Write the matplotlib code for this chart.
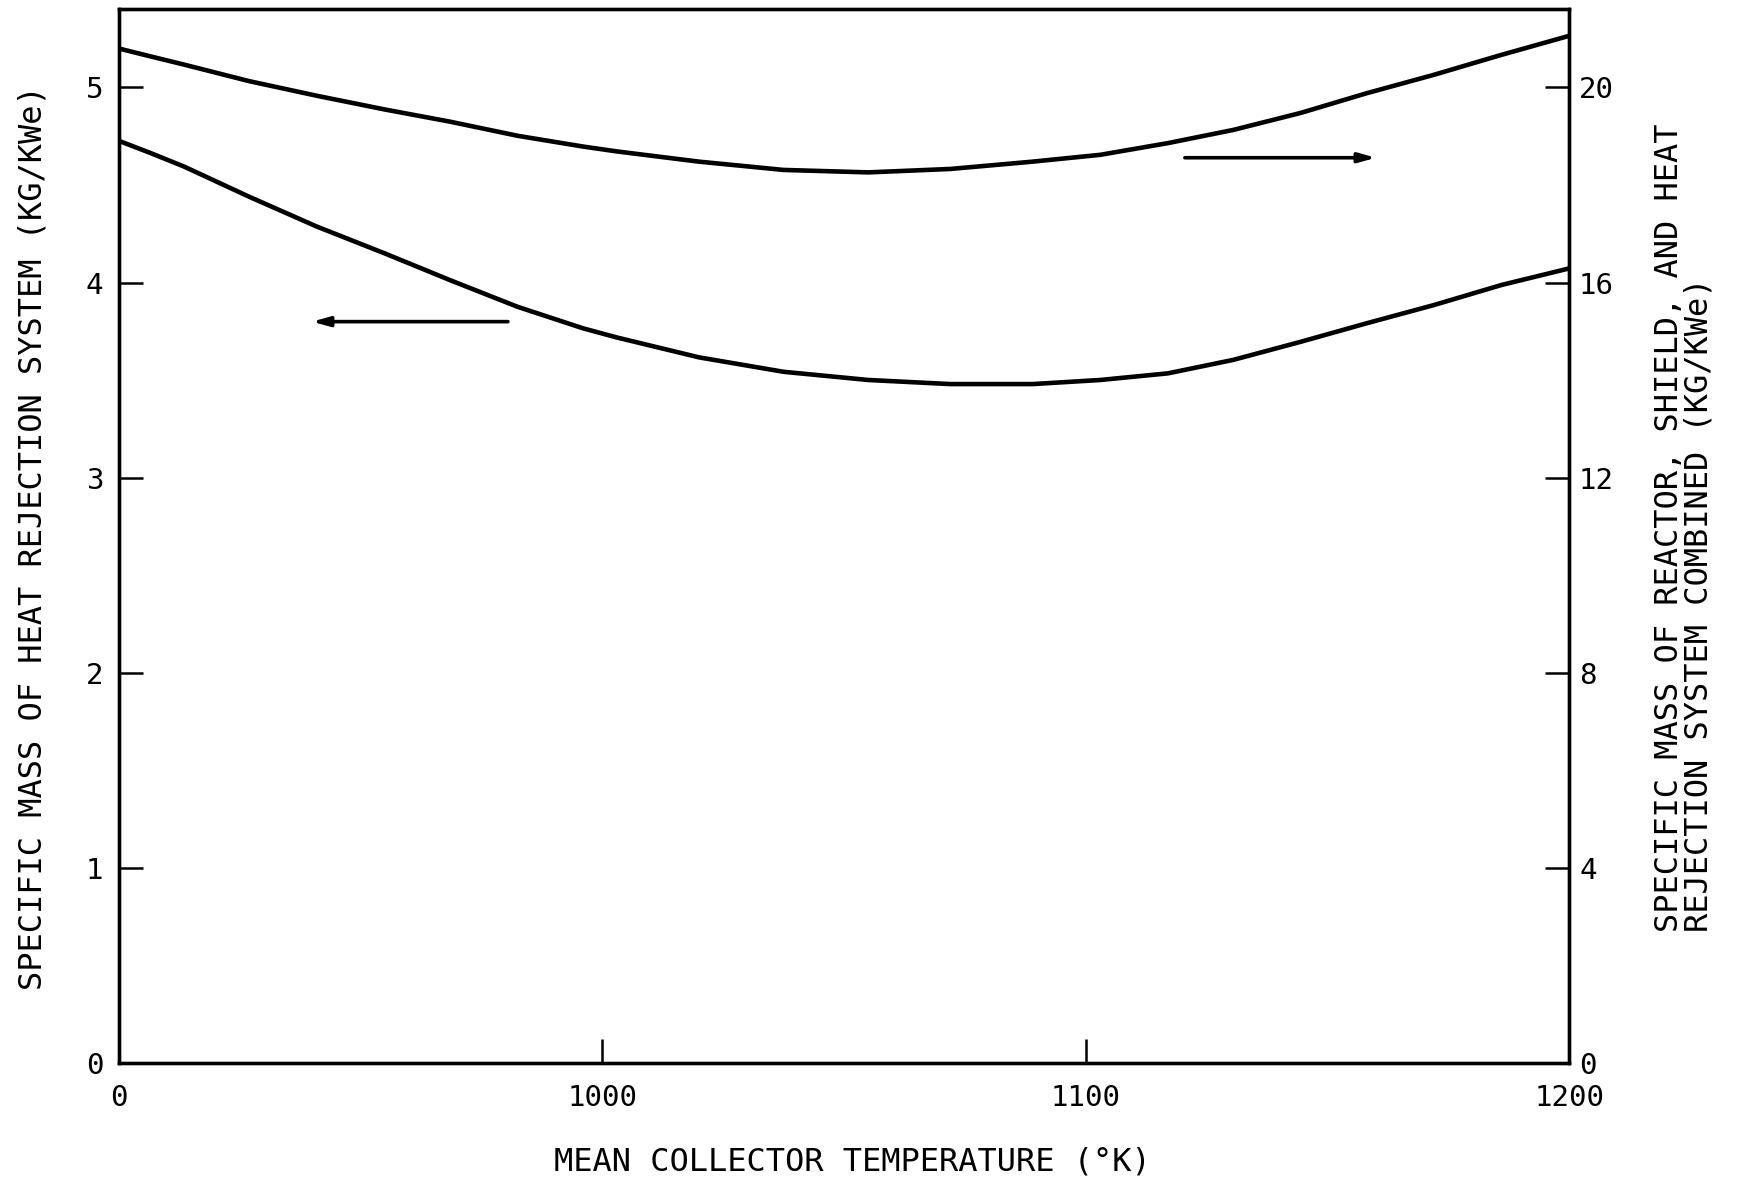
import matplotlib.pyplot as plt

# Mean collector temperature (K)
temps = [900, 906.5, 913.5, 927, 941, 955, 968.5, 982.5, 996, 1003,
         1020, 1037.5, 1055, 1072, 1089, 1103, 1117, 1130.5, 1144.5,
         1158, 1172, 1186, 1200]

# Specific mass of heat rejection system (kg/kWe), left axis
hrs_mass = [4.727, 4.665, 4.595, 4.440, 4.287, 4.150, 4.013, 3.876, 3.766, 3.719,
            3.617, 3.543, 3.501, 3.480, 3.480, 3.501, 3.535, 3.604, 3.697,
            3.791, 3.885, 3.988, 4.073]

# Specific mass of reactor, shield and heat rejection combined (kg/kWe), right axis
total_mass = [20.80, 20.64, 20.47, 20.13, 19.83, 19.55, 19.30, 19.01, 18.79, 18.69,
              18.48, 18.31, 18.26, 18.33, 18.48, 18.62, 18.86, 19.13, 19.48,
              19.88, 20.26, 20.67, 21.06]

x_ticks = [900, 1000, 1100, 1200]
x_labels = ["0", "1000", "1100", "1200"]
left_ticks = [0, 1, 2, 3, 4, 5]
right_ticks = [0, 4, 8, 12, 16, 20]

plt.rcParams['font.family'] = ['DejaVu Sans Mono']

fig = plt.figure(figsize=(17.4, 11.82), dpi=100)
ax = fig.add_axes([0.0682, 0.1006, 0.8337, 0.8919])
ax2 = ax.twinx()

ax.plot(temps, hrs_mass, color="black", lw=3.3, solid_joinstyle="round")
ax2.plot(temps, total_mass, color="black", lw=3.3, solid_joinstyle="round")

ax.set_xlim(900, 1200)
ax.set_ylim(0, 5.403)
ax2.set_ylim(0, 5.403 * 4)

ax.set_xticks(x_ticks)
ax.set_xticklabels(x_labels)
ax.set_yticks(left_ticks)
ax2.set_yticks(right_ticks)

ax.tick_params(axis="x", direction="in", length=17, width=1.8, labelsize=21, pad=15)
ax.tick_params(axis="y", direction="in", length=17, width=1.8, labelsize=21, pad=11)
ax2.tick_params(axis="y", direction="in", length=17, width=1.8, labelsize=21, pad=7)

for a in (ax, ax2):
    for s in a.spines.values():
        s.set_linewidth(2.4)

# direction arrows pointing to the matching axis
ax.annotate("", xy=(940, 3.80), xytext=(980.5, 3.80),
            arrowprops=dict(arrowstyle="-|>,head_length=1.0,head_width=0.28",
                            color="black", lw=2.6, shrinkA=0, shrinkB=0))
ax2.annotate("", xy=(1160, 18.56), xytext=(1120.5, 18.56),
             arrowprops=dict(arrowstyle="-|>,head_length=1.0,head_width=0.28",
                             color="black", lw=2.6, shrinkA=0, shrinkB=0))

fig.text(0.49, 0.017, "MEAN COLLECTOR TEMPERATURE (°K)", fontsize=23,
         ha="center", va="center")
fig.text(0.019, 0.545, "SPECIFIC MASS OF HEAT REJECTION SYSTEM (KG/KWe)",
         fontsize=23, rotation=90, ha="center", va="center")
fig.text(0.968, 0.2115,
         "SPECIFIC MASS OF REACTOR, SHIELD, AND HEAT\nREJECTION SYSTEM COMBINED (KG/KWe)",
         fontsize=23, rotation=90, ha="center", va="bottom",
         multialignment="left", linespacing=0.95)

fig.savefig("out.png", dpi=100)
